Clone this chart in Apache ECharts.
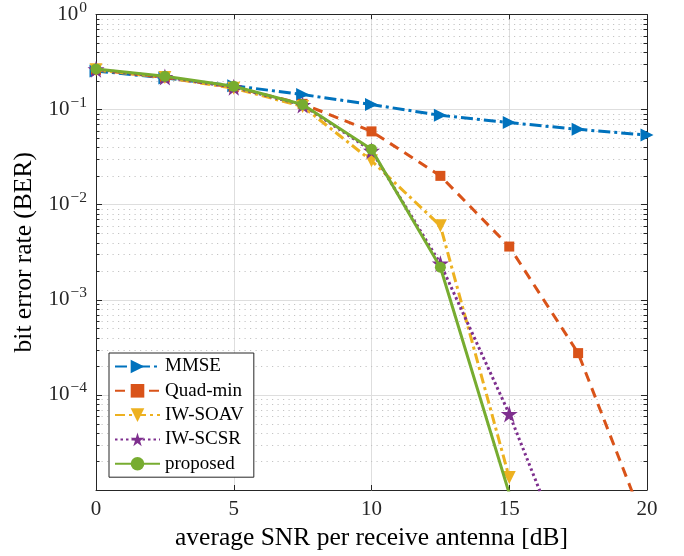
<!DOCTYPE html>
<html>
<head>
<meta charset="utf-8">
<script src="https://cdn.jsdelivr.net/npm/echarts@6/dist/echarts.min.js"></script>
<style>
html,body{margin:0;padding:0;background:#fff;}
#chart{width:684px;height:556px;}
</style>
</head>
<body>
<div id="chart"></div>
<script>
// ---- data ----
const snr = [0, 2.5, 5, 7.5, 10, 12.5, 15, 17.5, 20];
const mmse     = [0.255, 0.215, 0.178, 0.144, 0.113, 0.087, 0.073, 0.062, 0.054];
const quadMin  = [0.262, 0.218, 0.172, 0.115, 0.059, 0.0201, 0.00363, 0.000275, 0.0000038];
const iwSoav   = [0.262, 0.218, 0.168, 0.108, 0.029, 0.0060, 0.0000135];
const iwScsr   = [0.265, 0.220, 0.172, 0.112, 0.037, 0.0024, 0.000063, 0.00000095];
const proposed = [0.267, 0.224, 0.176, 0.113, 0.0383, 0.0022, 0.0000092];
const seriesNames = ['MMSE', 'Quad-min', 'IW-SOAV', 'IW-SCSR', 'proposed'];
const xTicks = [0, 5, 10, 15, 20];
const yDecades = [1e-5, 1e-4, 1e-3, 1e-2, 1e-1, 1];
const minorFactors = [2, 3, 4, 5, 6, 7, 8, 9];

const FONT = 'Liberation Serif';
const AX = '#262626';
const minorVals = [];
yDecades.slice(0, -1).forEach(d => minorFactors.forEach(f => minorVals.push([0, d * f])));

function pairs(ys) { return ys.map((y, i) => [snr[i], y]); }
function yLabel(v) {
  const e = Math.round(Math.log10(v));
  return '{b|10}{s|' + (e < 0 ? '\u2212' + (-e) : String(e)) + '}';
}
const starPath = 'path://M50,0 L61.2,34.5 L97.6,34.5 L68.2,55.9 L79.4,90.5 L50,69.1 L20.6,90.5 L31.8,55.9 L2.4,34.5 L38.8,34.5 Z';

const chart = echarts.init(document.getElementById('chart'), null, {renderer: 'canvas'});
const lineW = 3;
chart.setOption({
  animation: false,
  backgroundColor: '#fff',
  textStyle: {fontFamily: FONT},
  grid: {left: 96, right: 37, top: 14.5, bottom: 64, containLabel: false},
  legend: {
    data: seriesNames,
    orient: 'vertical',
    left: 109, top: 353,
    padding: [4, 10, 4, 5],
    itemWidth: 45, itemHeight: 17, itemGap: 5.3,
    backgroundColor: '#fff',
    borderColor: AX, borderWidth: 1, borderRadius: 0,
    textStyle: {fontFamily: FONT, fontSize: 19, lineHeight: 19, color: '#000'}
  },
  xAxis: [{
    type: 'value', min: 0, max: 20, interval: 5,
    name: 'average SNR per receive antenna [dB]',
    nameLocation: 'middle', nameGap: 35,
    nameTextStyle: {fontFamily: FONT, fontSize: 25.5, color: '#000'},
    axisLine: {show: true, onZero: false, lineStyle: {color: AX, width: 1}},
    axisTick: {show: true, inside: true, length: 5, lineStyle: {color: AX}},
    axisLabel: {fontFamily: FONT, fontSize: 21, color: '#262626', margin: 9,
                formatter: v => xTicks.includes(v) ? String(v) : ''},
    splitLine: {show: true, lineStyle: {color: '#dedede', width: 1}}
  }, {
    type: 'value', min: 0, max: 20, interval: 5, position: 'top',
    axisLine: {show: true, onZero: false, lineStyle: {color: AX, width: 1}},
    axisTick: {show: true, inside: true, length: 5, lineStyle: {color: AX}},
    axisLabel: {show: false}, splitLine: {show: false}
  }],
  yAxis: [{
    type: 'log', logBase: 10, min: 1e-5, max: 1, interval: 1,
    name: 'bit error rate (BER)',
    nameLocation: 'middle', nameGap: 58, nameRotate: 90,
    nameTextStyle: {fontFamily: FONT, fontSize: 25.5, color: '#000'},
    axisLine: {show: true, onZero: false, lineStyle: {color: AX, width: 1}},
    axisTick: {show: true, inside: true, length: 6, lineStyle: {color: AX}},
    axisLabel: {
      showMinLabel: false, margin: 9,
      formatter: yLabel,
      rich: {
        b: {fontFamily: FONT, fontSize: 21, color: '#262626', lineHeight: 21, verticalAlign: 'bottom'},
        s: {fontFamily: FONT, fontSize: 15.5, color: '#262626', lineHeight: 15, padding: [0, 0, 9, 1], verticalAlign: 'bottom'}
      }
    },
    splitLine: {show: true, lineStyle: {color: '#dedede', width: 1}}
  }, {
    type: 'log', logBase: 10, min: 1e-5, max: 1, interval: 1, position: 'right',
    axisLine: {show: true, onZero: false, lineStyle: {color: AX, width: 1}},
    axisTick: {show: true, inside: true, length: 6, lineStyle: {color: AX}},
    axisLabel: {show: false}, splitLine: {show: false}
  }],
  series: [
    {
      type: 'custom', name: 'minor', silent: true, z: 1,
      xAxisIndex: 0, yAxisIndex: 0,
      data: minorVals,
      renderItem: function (params, api) {
        const p = api.coord([0, api.value(1)]);
        const cs = params.coordSys;
        const y = Math.round(p[1]) + 0.5;
        return {type: 'group', children: [
          {type: 'line', shape: {x1: cs.x, y1: y, x2: cs.x + cs.width, y2: y},
           style: {stroke: '#c4c4c4', lineWidth: 1, lineDash: [1.2, 4.3]}},
          {type: 'line', shape: {x1: cs.x, y1: y, x2: cs.x + 3.5, y2: y},
           style: {stroke: AX, lineWidth: 1}},
          {type: 'line', shape: {x1: cs.x + cs.width - 3.5, y1: y, x2: cs.x + cs.width, y2: y},
           style: {stroke: AX, lineWidth: 1}}
        ]};
      }
    },
    {
      name: 'MMSE', type: 'line', data: pairs(mmse), z: 5,
      color: '#0072BD', symbol: 'triangle', symbolSize: 13, symbolRotate: -90,
      lineStyle: {width: lineW, type: [12, 4, 3, 4]},
      itemStyle: {color: '#0072BD'}
    },
    {
      name: 'Quad-min', type: 'line', data: pairs(quadMin), z: 6,
      color: '#D95319', symbol: 'rect', symbolSize: 10,
      lineStyle: {width: lineW, type: [10, 7]},
      itemStyle: {color: '#D95319'}
    },
    {
      name: 'IW-SOAV', type: 'line', data: pairs(iwSoav), z: 7,
      color: '#EDB120', symbol: 'triangle', symbolSize: 13, symbolRotate: 180,
      lineStyle: {width: lineW, type: [10, 4, 3, 4]},
      itemStyle: {color: '#EDB120'}
    },
    {
      name: 'IW-SCSR', type: 'line', data: pairs(iwScsr), z: 8,
      color: '#7E2F8E', symbol: starPath, symbolSize: 17,
      lineStyle: {width: lineW, type: [2.5, 3]},
      itemStyle: {color: '#7E2F8E'}
    },
    {
      name: 'proposed', type: 'line', data: pairs(proposed), z: 9,
      color: '#77AC30', symbol: 'circle', symbolSize: 11,
      lineStyle: {width: lineW, type: 'solid'},
      itemStyle: {color: '#77AC30'}
    }
  ]
});
</script>
</body>
</html>
